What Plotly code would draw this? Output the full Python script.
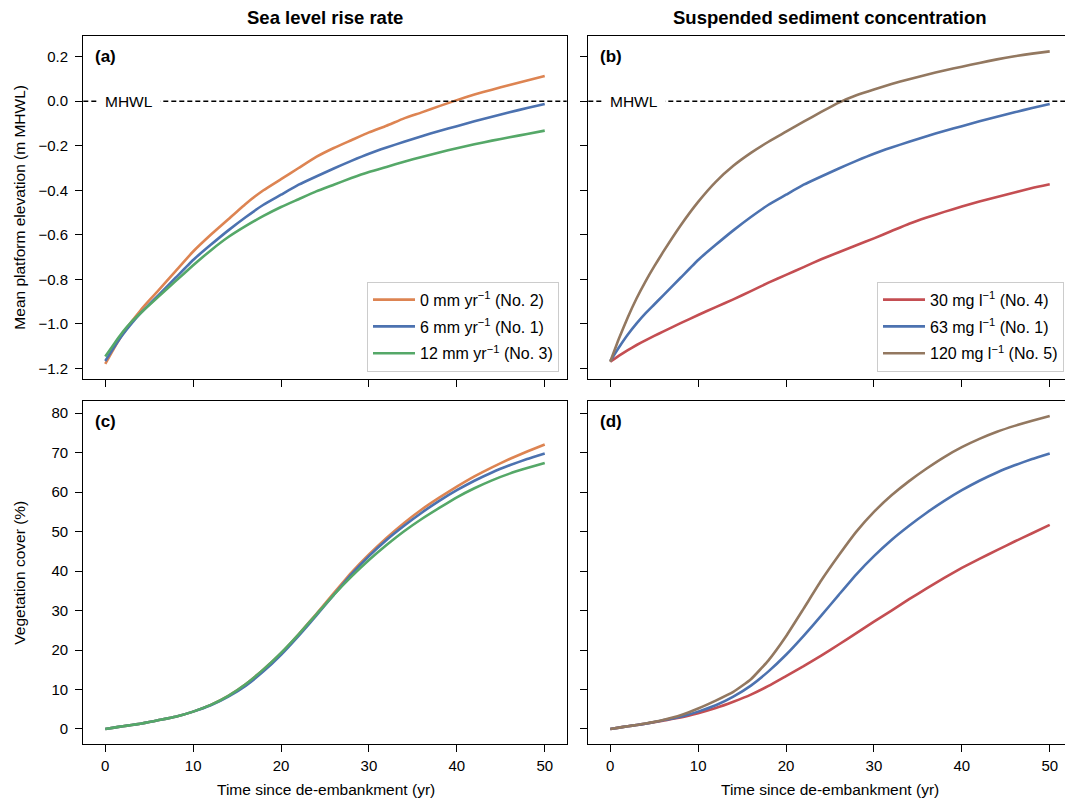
import plotly.graph_objects as go

# ---------------- data ----------------
years = [0, 1, 2, 3, 4, 5, 6, 8, 10, 12, 14, 16, 18, 20, 22, 24, 26, 28, 30,
         32, 34, 36, 38, 40, 42, 44, 46, 48, 50]

# (a) mean platform elevation, sea-level-rise scenarios (m MHWL)
elev_slr0 = [-1.18, -1.11, -1.045, -0.99, -0.94, -0.895, -0.852, -0.763, -0.675, -0.60,
             -0.53, -0.46, -0.40, -0.35, -0.30, -0.25, -0.21, -0.175, -0.14, -0.11,
             -0.077, -0.05, -0.022, 0.005, 0.03, 0.052, 0.073, 0.093, 0.113]
elev_base = [-1.167, -1.105, -1.048, -0.998, -0.953, -0.913, -0.873, -0.793, -0.713, -0.645,
             -0.58, -0.52, -0.465, -0.42, -0.375, -0.338, -0.302, -0.268, -0.236, -0.208,
             -0.182, -0.157, -0.134, -0.112, -0.09, -0.07, -0.05, -0.03, -0.012]
elev_slr12 = [-1.147, -1.09, -1.036, -0.99, -0.952, -0.916, -0.88, -0.808, -0.737, -0.67,
              -0.61, -0.56, -0.515, -0.475, -0.44, -0.405, -0.375, -0.345, -0.318, -0.295,
              -0.272, -0.25, -0.23, -0.211, -0.193, -0.177, -0.162, -0.147, -0.132]
# (b) suspended sediment scenarios
elev_ssc30 = [-1.17, -1.143, -1.118, -1.095, -1.074, -1.054, -1.035, -0.997, -0.96, -0.925,
              -0.89, -0.853, -0.815, -0.78, -0.745, -0.71, -0.678, -0.647, -0.616, -0.583,
              -0.55, -0.522, -0.497, -0.473, -0.45, -0.43, -0.41, -0.39, -0.373]
elev_ssc120 = [-1.17, -1.065, -0.97, -0.885, -0.81, -0.742, -0.678, -0.558, -0.452, -0.362,
               -0.29, -0.232, -0.182, -0.137, -0.092, -0.048, -0.006, 0.027, 0.053, 0.077,
               0.099, 0.119, 0.138, 0.155, 0.172, 0.188, 0.202, 0.214, 0.224]

# (c)/(d) vegetation cover (%)
veg_slr0 = [0, 0.35, 0.7, 1.0, 1.35, 1.75, 2.2, 3.1, 4.4, 6.1, 8.4, 11.4, 15.1, 19.2, 24.0,
            29.1, 34.4, 39.6, 44.2, 48.4, 52.2, 55.6, 58.6, 61.4, 64.0, 66.3, 68.4, 70.3, 72.1]
veg_base = [0, 0.35, 0.7, 1.0, 1.35, 1.75, 2.2, 3.1, 4.4, 6.0, 8.2, 11.0, 14.6, 18.8, 23.6,
            28.7, 34.0, 39.2, 43.8, 47.9, 51.5, 54.8, 57.8, 60.5, 62.9, 65.0, 66.8, 68.4, 69.8]
veg_slr12 = [0, 0.35, 0.7, 1.0, 1.35, 1.75, 2.2, 3.1, 4.4, 6.1, 8.4, 11.4, 15.1, 19.3, 24.0,
             29.0, 34.0, 38.6, 42.8, 46.6, 50.1, 53.2, 56.0, 58.7, 61.0, 63.0, 64.7, 66.1, 67.4]
veg_ssc30 = [0, 0.35, 0.7, 1.0, 1.35, 1.7, 2.1, 2.9, 4.0, 5.3, 6.9, 8.7, 10.9, 13.4, 15.9,
             18.6, 21.4, 24.3, 27.2, 30.0, 32.9, 35.6, 38.3, 40.8, 43.1, 45.3, 47.5, 49.6, 51.7]
veg_ssc120 = [0, 0.35, 0.7, 1.0, 1.4, 1.8, 2.3, 3.5, 5.2, 7.2, 9.4, 12.6, 17.4, 23.5, 30.5,
              37.6, 44.0, 50.0, 55.0, 59.2, 62.8, 66.0, 68.9, 71.4, 73.5, 75.3, 76.8, 78.1, 79.3]

slr_names = ["0 mm yr<sup>−1</sup> (No. 2)", "6 mm yr<sup>−1</sup> (No. 1)", "12 mm yr<sup>−1</sup> (No. 3)"]
ssc_names = ["30 mg l<sup>−1</sup> (No. 4)", "63 mg l<sup>−1</sup> (No. 1)", "120 mg l<sup>−1</sup> (No. 5)"]

x_ticks = [0, 10, 20, 30, 40, 50]
elev_ticks = [-1.2, -1.0, -0.8, -0.6, -0.4, -0.2, 0.0, 0.2]
veg_ticks = [0, 10, 20, 30, 40, 50, 60, 70, 80]

# ---------------- styles ----------------
C_ORANGE = "#dd8452"
C_BLUE = "#4c72b0"
C_GREEN = "#55a868"
C_RED = "#c44e52"
C_BROWN = "#937860"
FONT = "Liberation Sans, Arial, sans-serif"
W, H = 1065, 801
LW = 2.6


def px_x(p):
    return p / W


def px_y(p):
    return 1 - p / H


fig = go.Figure()


def add_line(x, y, name, color, xa, ya, legend=None, group=None):
    fig.add_trace(go.Scatter(
        x=x, y=y, mode="lines", name=name,
        line=dict(color=color, width=LW, shape="spline", smoothing=0.4),
        xaxis=xa, yaxis=ya,
        showlegend=legend is not None,
        legend=legend if legend else "legend",
        legendgroup=group,
    ))


# (a)
add_line(years, elev_slr0, slr_names[0], C_ORANGE, "x", "y", "legend", "a1")
add_line(years, elev_base, slr_names[1], C_BLUE, "x", "y", "legend", "a2")
add_line(years, elev_slr12, slr_names[2], C_GREEN, "x", "y", "legend", "a3")
# (b)
add_line(years, elev_ssc30, ssc_names[0], C_RED, "x2", "y2", "legend2", "b1")
add_line(years, elev_base, ssc_names[1], C_BLUE, "x2", "y2", "legend2", "b2")
add_line(years, elev_ssc120, ssc_names[2], C_BROWN, "x2", "y2", "legend2", "b3")
# (c)
add_line(years, veg_slr0, slr_names[0], C_ORANGE, "x3", "y3")
add_line(years, veg_base, slr_names[1], C_BLUE, "x3", "y3")
add_line(years, veg_slr12, slr_names[2], C_GREEN, "x3", "y3")
# (d)
add_line(years, veg_ssc30, ssc_names[0], C_RED, "x4", "y4")
add_line(years, veg_base, ssc_names[1], C_BLUE, "x4", "y4")
add_line(years, veg_ssc120, ssc_names[2], C_BROWN, "x4", "y4")

# geometry (pixels)
left_a, right_a = 83.3, 566.7
left_b = 588.3
top_1, bot_1 = 36.0, 379.3
top_2, bot_2 = 401.0, 744.3
px_per_yr = (right_a - left_a) / 55.0
xr_a = [-2.5, 52.5]
xr_b = [-2.5, -2.5 + (W - left_b) / px_per_yr]
yr_elev = [-1.249, 0.293]
yr_veg = [-3.88, 83.1]

axis_common = dict(
    showline=True, linecolor="black", linewidth=1.3,
    ticks="outside", ticklen=7, tickwidth=1.2, tickcolor="black",
    showgrid=False, zeroline=False,
    tickfont=dict(family=FONT, size=15, color="black"),
)
xax = dict(axis_common, ticklabelstandoff=1)
yax = dict(axis_common, ticklabelstandoff=4)

legend_common = dict(
    yanchor="bottom", xanchor="right",
    bgcolor="rgba(255,255,255,0.85)", bordercolor="#cccccc", borderwidth=1,
    font=dict(family=FONT, size=16, color="black"), tracegroupgap=3, itemwidth=42,
)

fig.update_layout(
    width=W, height=H,
    margin=dict(l=0, r=0, t=0, b=0),
    paper_bgcolor="white", plot_bgcolor="white",
    font=dict(family=FONT, size=14, color="black"),
    xaxis=dict(xax, domain=[px_x(left_a), px_x(right_a)], range=xr_a,
               tickvals=x_ticks, showticklabels=False, anchor="y", mirror=True),
    yaxis=dict(yax, domain=[px_y(bot_1), px_y(top_1)], range=yr_elev,
               tickvals=elev_ticks, tickformat=".1f", anchor="x", mirror=True),
    xaxis2=dict(xax, domain=[px_x(left_b), 1.0], range=xr_b,
                tickvals=x_ticks, showticklabels=False, anchor="y2", mirror=True),
    yaxis2=dict(yax, domain=[px_y(bot_1), px_y(top_1)], range=yr_elev,
                tickvals=elev_ticks, showticklabels=False, anchor="x2", mirror=False),
    xaxis3=dict(xax, domain=[px_x(left_a), px_x(right_a)], range=xr_a,
                tickvals=x_ticks, anchor="y3", mirror=True),
    yaxis3=dict(yax, domain=[px_y(bot_2), px_y(top_2)], range=yr_veg,
                tickvals=veg_ticks, anchor="x3", mirror=True),
    xaxis4=dict(xax, domain=[px_x(left_b), 1.0], range=xr_b,
                tickvals=x_ticks, anchor="y4", mirror=True),
    yaxis4=dict(yax, domain=[px_y(bot_2), px_y(top_2)], range=yr_veg,
                tickvals=veg_ticks, showticklabels=False, anchor="x4", mirror=False),
    legend=dict(legend_common, x=px_x(559), y=px_y(371.7)),
    legend2=dict(legend_common, x=px_x(1064), y=px_y(371.7)),
)

# MHWL dashed lines
for xa, ya in (("x", "y"), ("x2", "y2")):
    fig.add_shape(type="line", xref=f"{xa} domain", yref=ya, x0=0, x1=1, y0=0, y1=0,
                  line=dict(color="black", width=1.3, dash="5px,3px"), layer="above")
    fig.add_annotation(x=2.65, y=0, xref=xa, yref=ya, text="MHWL", showarrow=False,
                       bgcolor="white", borderpad=7, xanchor="center", yanchor="middle",
                       font=dict(family=FONT, size=15.5, color="black"))

# panel labels
for lab, xa, ya in (("(a)", "x", "y"), ("(b)", "x2", "y2"), ("(c)", "x3", "y3"), ("(d)", "x4", "y4")):
    fig.add_annotation(x=0.021, y=0.94,
                       xref=f"{xa} domain", yref=f"{ya} domain",
                       text=f"<b>{lab}</b>", showarrow=False, xanchor="left", yanchor="middle",
                       font=dict(family=FONT, size=17, color="black"))

# column titles
fig.add_annotation(x=px_x(325), y=px_y(17), xref="paper", yref="paper",
                   text="<b>Sea level rise rate</b>", showarrow=False,
                   xanchor="center", yanchor="middle", font=dict(family=FONT, size=18.5))
fig.add_annotation(x=px_x(830), y=px_y(17), xref="paper", yref="paper",
                   text="<b>Suspended sediment concentration</b>", showarrow=False,
                   xanchor="center", yanchor="middle", font=dict(family=FONT, size=18.5))

# axis titles
fig.add_annotation(x=px_x(20), y=px_y((top_1 + bot_1) / 2), xref="paper", yref="paper",
                   text="Mean platform elevation (m MHWL)", textangle=-90, showarrow=False,
                   xanchor="center", yanchor="middle", font=dict(family=FONT, size=15.5))
fig.add_annotation(x=px_x(20), y=px_y((top_2 + bot_2) / 2), xref="paper", yref="paper",
                   text="Vegetation cover (%)", textangle=-90, showarrow=False,
                   xanchor="center", yanchor="middle", font=dict(family=FONT, size=15.5))
fig.add_annotation(x=px_x(325.5), y=px_y(789), xref="paper", yref="paper",
                   text="Time since de-embankment (yr)", showarrow=False,
                   xanchor="center", yanchor="middle", font=dict(family=FONT, size=15.5))
fig.add_annotation(x=px_x(830), y=px_y(789), xref="paper", yref="paper",
                   text="Time since de-embankment (yr)", showarrow=False,
                   xanchor="center", yanchor="middle", font=dict(family=FONT, size=15.5))

fig.write_html("out.html")
